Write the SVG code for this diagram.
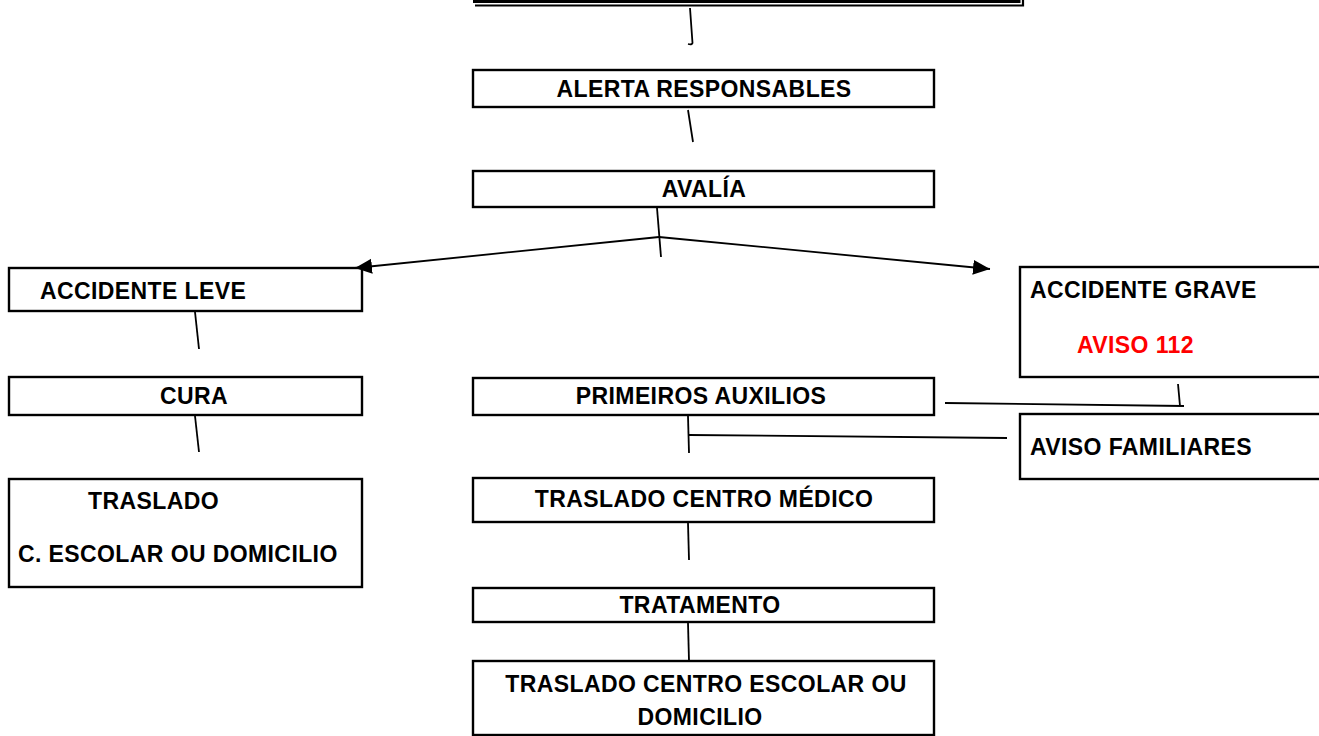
<svg xmlns="http://www.w3.org/2000/svg" width="1319" height="736" viewBox="0 0 1319 736">
  <defs>
    <marker id="arrow" markerUnits="userSpaceOnUse" markerWidth="18" markerHeight="16" refX="17" refY="7.5" orient="auto">
      <path d="M0,0 L17,7.5 L0,15 Z" fill="#000"/>
    </marker>
    <style>
      .box { fill: #fff; stroke: #000; stroke-width: 2.4; }
      .lbl { font-family: "Liberation Sans", Arial, sans-serif; font-weight: bold; font-size: 23px; letter-spacing: 0.4px; fill: #000; }
      .mid { text-anchor: middle; }
      .red { fill: #ff0000; }
      .conn { stroke: #000; stroke-width: 1.8; fill: none; }
    </style>
  </defs>
  <rect width="1319" height="736" fill="#fff"/>

  <g id="node-top">
    <path d="M473,1.5 L1019,1.5 L1019,0" fill="none" stroke="#000" stroke-width="3"/>
    <path d="M475,5.5 L1023,5.5 L1023,0" fill="none" stroke="#000" stroke-width="2.2"/>
  </g>

  <g id="node-alerta">
    <rect class="box" x="473" y="70" width="461" height="37"/>
    <text class="lbl mid" x="704" y="97">ALERTA RESPONSABLES</text>
  </g>

  <g id="node-avalia">
    <rect class="box" x="473" y="171" width="461" height="36"/>
    <text class="lbl mid" x="704" y="197">AVALÍA</text>
  </g>

  <g id="node-leve">
    <rect class="box" x="9" y="268" width="353" height="43"/>
    <text class="lbl" x="40" y="299">ACCIDENTE LEVE</text>
  </g>

  <g id="node-grave">
    <rect class="box" x="1020" y="267" width="310" height="110"/>
    <text class="lbl" x="1030" y="298">ACCIDENTE GRAVE</text>
    <text class="lbl red" x="1077" y="353">AVISO 112</text>
  </g>

  <g id="node-cura">
    <rect class="box" x="9" y="377" width="353" height="38"/>
    <text class="lbl mid" x="194" y="404">CURA</text>
  </g>

  <g id="node-primeiros">
    <rect class="box" x="473" y="378" width="461" height="37"/>
    <text class="lbl mid" x="701" y="404">PRIMEIROS AUXILIOS</text>
  </g>

  <g id="node-familiares">
    <rect class="box" x="1020" y="414" width="310" height="65"/>
    <text class="lbl" x="1030" y="455">AVISO FAMILIARES</text>
  </g>

  <g id="node-traslado-leve">
    <rect class="box" x="9" y="479" width="353" height="108"/>
    <text class="lbl" x="88" y="509">TRASLADO</text>
    <text class="lbl" x="18" y="562">C. ESCOLAR OU DOMICILIO</text>
  </g>

  <g id="node-centro-medico">
    <rect class="box" x="473" y="478" width="461" height="44"/>
    <text class="lbl mid" x="704" y="507">TRASLADO CENTRO MÉDICO</text>
  </g>

  <g id="node-tratamento">
    <rect class="box" x="473" y="588" width="461" height="34"/>
    <text class="lbl mid" x="700" y="613">TRATAMENTO</text>
  </g>

  <g id="node-final">
    <rect class="box" x="473" y="661" width="461" height="74"/>
    <text class="lbl mid" x="706" y="692">TRASLADO CENTRO ESCOLAR OU</text>
    <text class="lbl mid" x="700" y="725">DOMICILIO</text>
  </g>

  <g id="connectors">
    <path class="conn" d="M690,8 L692.5,43 Q692,45 688,44"/>
    <path class="conn" d="M688,110 L693,142"/>
    <path class="conn" d="M657,208 L661,257"/>
    <path class="conn" d="M659,237 L355,268" marker-end="url(#arrow)"/>
    <path class="conn" d="M659,237 L990,269" marker-end="url(#arrow)"/>
    <path class="conn" d="M195,312 L199,349"/>
    <path class="conn" d="M195,416 L199,452"/>
    <path class="conn" d="M945,403 L1184,406"/>
    <path class="conn" d="M1178,384 L1180,406"/>
    <path class="conn" d="M688,416 L689,453"/>
    <path class="conn" d="M689,435 L1007,438"/>
    <path class="conn" d="M688,523 L689,560"/>
    <path class="conn" d="M688,623 L689,661"/>
  </g>
</svg>
